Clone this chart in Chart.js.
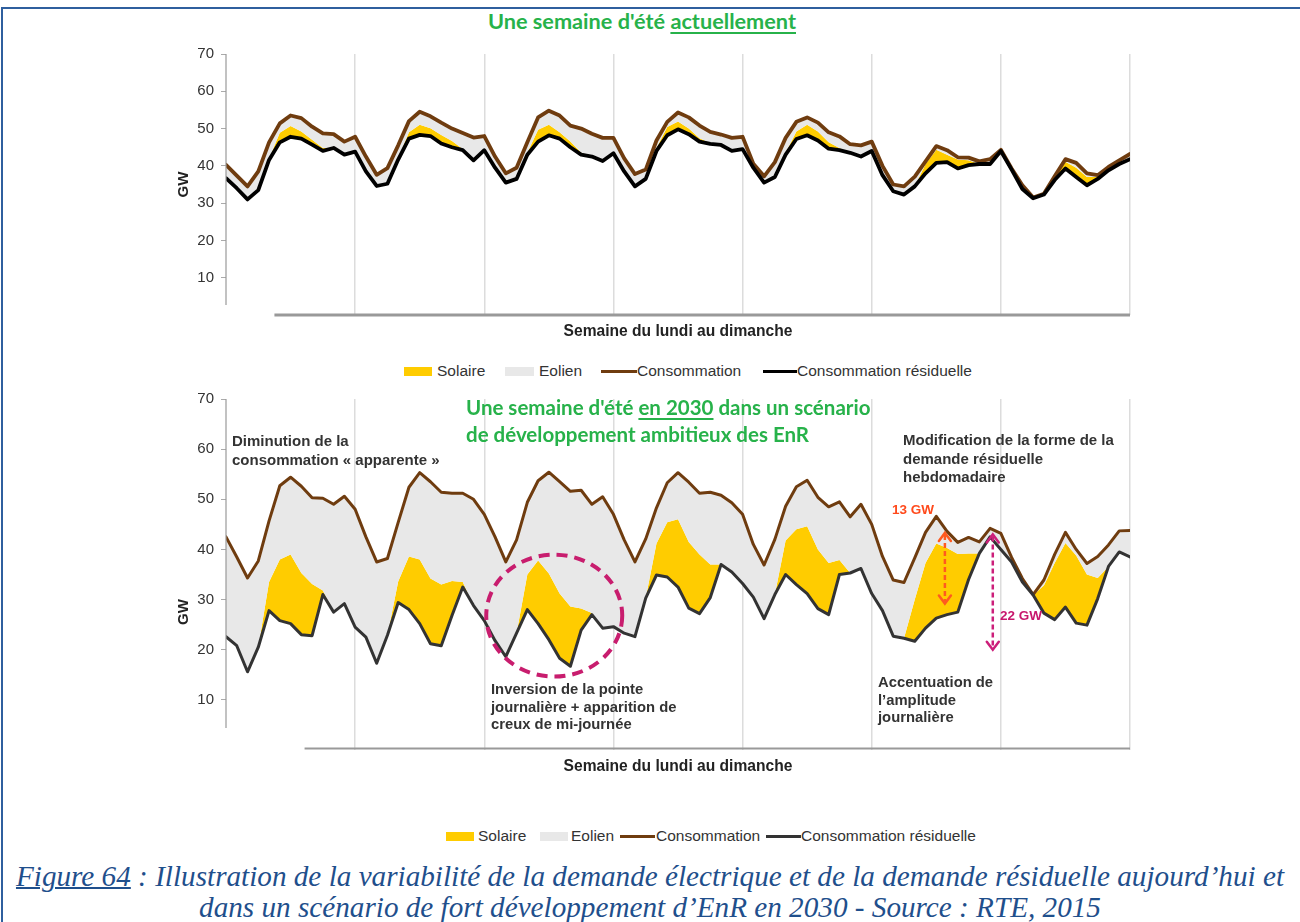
<!DOCTYPE html>
<html lang="fr">
<head>
<meta charset="utf-8">
<title>Figure 64 - demande résiduelle</title>
<script src="https://cdn.jsdelivr.net/npm/chart.js@4.4.1/dist/chart.umd.min.js"></script>
<style>
  body { margin:0; width:1300px; height:922px; overflow:hidden; position:relative; background:#fff;
         font-family:"Liberation Sans", Arial, sans-serif; }
  .cadre { position:absolute; left:1px; top:7px; width:1320px; height:1000px;
           border-left:2px solid #2f5f9e; border-top:2px solid #2f5f9e; }
  canvas { position:absolute; left:0; }
  #grapheActuel { top:0; }
  #graphe2030 { top:380px; }
  .t { position:absolute; white-space:nowrap; }
  .vert { font-family:Lato, "Open Sans", sans-serif; font-weight:700; color:#27b24a; font-size:20.5px; line-height:27px; }
  .vert u { text-decoration-thickness:2px; text-underline-offset:3px; }
  .note { font-weight:700; color:#333; font-size:15px; line-height:19px; }
  .note13 { font-weight:700; color:#333; font-size:14.8px; line-height:17.5px; }
  .gw { font-weight:700; font-size:13.5px; line-height:16px; }
  .leg { font-size:15.5px; color:#333; line-height:16px; }
  .box { position:absolute; }
  .legende { position:absolute; left:0; width:1300px; top:861px; text-align:center;
             font-family:"Liberation Serif", "Times New Roman", serif; font-style:italic;
             color:#1f4f8c; font-size:29.2px; line-height:31px; }
  .legende u { text-decoration-thickness:1.5px; }
  .titreY { position:absolute; font-weight:700; font-size:15px; color:#222; width:30px; text-align:center;
            line-height:16px; transform:rotate(-90deg); }
</style>
</head>
<body>
<div class="cadre"></div>

<div class="t vert" style="left:488px; top:8px; font-size:21.7px;">Une semaine d'été <u>actuellement</u></div>

<canvas id="grapheActuel" width="1300" height="350"></canvas>

<!-- légende du graphe actuel -->
<div class="box" style="left:404px; top:367px; width:28px; height:9px; background:#ffcc00;"></div>
<div class="t leg" style="left:437px; top:363px;">Solaire</div>
<div class="box" style="left:505px; top:367px; width:29px; height:9px; background:#e8e8e8;"></div>
<div class="t leg" style="left:539px; top:363px;">Eolien</div>
<div class="box" style="left:601px; top:370px; width:36px; height:3px; background:#6f3c0f;"></div>
<div class="t leg" style="left:637px; top:363px;">Consommation</div>
<div class="box" style="left:763px; top:370px; width:34px; height:3px; background:#000;"></div>
<div class="t leg" style="left:797px; top:363px;">Consommation résiduelle</div>

<canvas id="graphe2030" width="1300" height="410"></canvas>

<div class="titreY" style="left:168px; top:604px;">GW</div>

<div class="t vert" style="left:466px; top:394px;">Une semaine d'été <u>en 2030</u> dans un scénario<br>de développement ambitieux des EnR</div>
<div class="t note" style="left:232px; top:431px;">Diminution de la<br>consommation « apparente »</div>
<div class="t note" style="left:903px; top:431px; line-height:18.5px;">Modification de la forme de la<br>demande résiduelle<br>hebdomadaire</div>
<div class="t gw" style="left:892px; top:502px; color:#ff4a1c;">13 GW</div>
<div class="t gw" style="left:1000px; top:608px; color:#c8176c;">22 GW</div>
<div class="t note13" style="left:491px; top:681px;">Inversion de la pointe<br>journalière + apparition de<br>creux de mi-journée</div>
<div class="t note13" style="left:878px; top:674px;">Accentuation de<br>l’amplitude<br>journalière</div>

<!-- légende du graphe 2030 -->
<div class="box" style="left:446px; top:832px; width:28px; height:9px; background:#ffcc00;"></div>
<div class="t leg" style="left:478px; top:828px;">Solaire</div>
<div class="box" style="left:540px; top:832px; width:28px; height:9px; background:#e8e8e8;"></div>
<div class="t leg" style="left:571px; top:828px;">Eolien</div>
<div class="box" style="left:620px; top:835px; width:35px; height:3px; background:#6f3c0f;"></div>
<div class="t leg" style="left:656px; top:828px;">Consommation</div>
<div class="box" style="left:766px; top:835px; width:35px; height:3px; background:#333;"></div>
<div class="t leg" style="left:801px; top:828px;">Consommation résiduelle</div>

<div class="legende"><u>Figure 64</u> : Illustration de la variabilité de la demande électrique et de la demande résiduelle aujourd’hui et<br>dans un scénario de fort développement d’EnR en 2030 - Source : RTE, 2015</div>

<script>
// ===== données (GW, pas de 2 h, lundi 0h -> dimanche 24h) =====
const heures = [0,2,4,6,8,10,12,14,16,18,20,22,24,26,28,30,32,34,36,38,40,42,44,46,48,50,52,54,56,58,60,62,64,66,68,70,72,74,76,78,80,82,84,86,88,90,92,94,96,98,100,102,104,106,108,110,112,114,116,118,120,122,124,126,128,130,132,134,136,138,140,142,144,146,148,150,152,154,156,158,160,162,164,166,168];

// semaine d'été actuelle
const consoActuelle = [40.3,37.4,34.5,38.5,46.3,51.4,53.5,52.8,50.5,48.7,48.5,46.5,47.8,
  42.5,37.6,39.4,45.5,52,54.5,53.3,51.6,50,48.8,47.6,48,
  42.5,38,39.5,46.3,53,54.8,53.5,50.8,50,48.6,47.5,47.5,
  42,37.8,39,46.8,51.8,54.3,53,50.8,49.1,48.4,47.5,47.8,
  40.6,37.2,41,47.5,51.8,53,51.6,49,47.9,45.8,45.5,46.5,
  40,35,34.5,37.1,41.2,45.3,44.2,42.3,42.2,41.2,41.8,44.3,
  39.3,34.8,31.5,32.5,37.2,41.8,40.8,38,37.5,39.7,41.5,43.2];
const residuelleActuelle = [36.7,34,31,33.5,41.6,46.3,47.8,47.3,45.7,44,44.8,43,43.8,
  38.5,34.6,35.2,41.7,47.3,48.3,48,46,45,44.2,41.5,44.2,
  39.5,35.5,36.5,43,46.5,48.2,47.3,45,43,42.5,41.3,43.4,
  38.5,34.5,36.5,44,48.2,49.8,48.5,46.5,45.9,45.6,44,44.5,
  39.5,35.5,37,43,47.2,48.2,46.8,44.6,44.2,43.5,42.5,44,
  37.5,33.2,32.3,34.5,38,40.8,41,39.3,40.2,40.5,40.5,44,
  39,33.8,31.3,32.3,36.2,39.3,37,34.8,36.5,38.8,40.5,41.8];
const solaireActuel = [0,0,0,0,0.3,2.6,2.9,1.9,1.3,0.8,0,0,0,
  0,0,0,0.5,1.7,2.7,2.1,2.3,1.7,0.3,0,0,
  0,0,0,0.5,3.2,2.8,1.7,1.5,0.6,0,0,0,
  0,0,0,0.8,2.2,2.1,1.5,0.9,0.2,0,0,0,
  0,0,0,0.5,2,2.8,2.4,1.7,0.6,0,0,0,
  0,0,0,0,2.5,3.5,2,2.4,1.3,0,0,0,
  0,0,0,0,0.8,1.8,2.5,2.2,0.5,0,0,0];

// semaine d'été 2030, scénario EnR ambitieux
const conso2030 = [42.5,38.5,34.3,37.7,45.7,52.7,54.4,52.6,50.3,50.2,49,50.6,48,
  42.5,37.5,38.2,45.4,52.4,55.3,53.5,51.4,51.2,51.2,50,47,
  42.5,37.5,41.9,49.4,53.7,55.4,53.5,51.6,51.8,49,50.5,47,
  41.9,37.5,42.1,48.3,53.3,55.3,53.4,51.2,51.4,50.8,49.3,47,
  41,36.9,42,48.6,52.5,53.8,50.4,48.5,49.5,46.5,49,45,
  38.6,33.9,33.4,38.3,43.4,46.6,43.6,41.4,42.4,41.5,44.2,43.2,
  38.4,34.2,31,33.9,39,43.4,40,37.2,38.6,40.9,43.7,43.8];
const residuelle2030 = [22.6,20.8,15.6,20.5,27.8,25.8,25.2,23,22.8,31,27.5,29.2,24.5,
  22.5,17.3,22.9,29.4,28,25.2,21.2,20.8,26.8,32.5,28.8,25.8,
  21.8,18.6,23.3,28,25.2,22,18.3,16.7,23.9,27,24.3,24.6,
  23.3,22.6,30.3,34.9,34.5,32.5,28.3,27.2,30.4,37,35.5,33.2,
  30.5,26.2,31,35,33,31.2,28.2,27,35,35.3,36.2,31.2,
  27.8,22.7,22.3,21.7,24.3,26.3,27,27.5,34,39.2,42.5,40,
  37.5,33.5,30.9,27.3,26,28.5,25.3,24.9,30.2,36.6,39.5,38.5];
const solaire2030 = [0,0,0,0,5.7,12.2,13.8,12.3,10.3,0.8,0,0,0,
  0,0,0,4.2,10.6,12.8,13,12.2,6.9,1,0,0,
  0,0,0,7,12.6,13.2,12.9,11.9,4.3,0.3,0,0,
  0,0,0,6.3,10.9,13.5,13.2,11.8,6.6,0,0,0,
  0,0,0,6.8,11,13.4,11.8,10.3,2.9,0,0,0,
  0,0,0,8.3,13,14.9,13.3,11.6,5.2,0,0,0,
  0,0,0,5.5,11.3,12.8,13.5,10.1,4.1,0,0,0];

// repères des annotations (heure, GW)
const cercleInversion = { heure: 61, gw: 26.8 };
const fleche13 = { heure: 133.6, haut: 43.3, bas: 29.2 };
const fleche22 = { heure: 142.5, haut: 43, bas: 20 };

// ===== helpers =====
const pts = arr => arr.map((v, i) => ({ x: heures[i], y: v }));

function makeDatasets(conso, residuelle, solaire, couleurResid, largeur) {
  // bord haut de la bande solaire = résiduelle + solaire
  const bordSolaire = residuelle.map((v, i) => Math.round((v + solaire[i]) * 10) / 10);
  return [
    { label: 'Consommation résiduelle', data: pts(residuelle), borderColor: couleurResid,
      borderWidth: largeur, fill: false, order: 0 },
    { label: 'Solaire', data: pts(bordSolaire), borderColor: 'rgba(0,0,0,0)', borderWidth: 0,
      backgroundColor: '#ffcc00', fill: '-1', order: 2 },
    { label: 'Consommation', data: pts(conso), borderColor: '#6f3c0f', borderWidth: largeur,
      backgroundColor: '#e8e8e8', fill: '-1', order: 1 }
  ];
}

// axes partiels (l'axe Y s'arrête avant 0, l'axe X commence après l'origine)
const axesPartiels = {
  id: 'axesPartiels',
  afterDatasetsDraw(chart, args, opts) {
    const { ctx, scales: { x, y } } = chart;
    ctx.save();
    ctx.strokeStyle = opts.couleur;
    ctx.lineWidth = 1.2;
    ctx.beginPath();
    ctx.moveTo(x.left, y.top);
    ctx.lineTo(x.left, y.getPixelForValue(opts.finAxeY));
    ctx.stroke();
    ctx.lineWidth = opts.epaisseurX;
    const yb = y.getPixelForValue(opts.niveauX);
    ctx.beginPath();
    ctx.moveTo(x.getPixelForValue(opts.debutAxeX), yb);
    ctx.lineTo(x.right, yb);
    ctx.stroke();
    ctx.restore();
  }
};

function fleche(ctx, x, yHaut, yBas, couleur) {
  ctx.save();
  ctx.strokeStyle = couleur;
  ctx.lineWidth = 2.5;
  ctx.setLineDash([5, 3]);
  ctx.beginPath();
  ctx.moveTo(x, yHaut + 2);
  ctx.lineTo(x, yBas - 2);
  ctx.stroke();
  ctx.setLineDash([]);
  ctx.lineCap = 'round';
  ctx.beginPath();
  ctx.moveTo(x - 6, yHaut + 8); ctx.lineTo(x, yHaut); ctx.lineTo(x + 6, yHaut + 8);
  ctx.moveTo(x - 6, yBas - 8); ctx.lineTo(x, yBas); ctx.lineTo(x + 6, yBas - 8);
  ctx.stroke();
  ctx.restore();
}

const annotations2030 = {
  id: 'annotations2030',
  afterDatasetsDraw(chart) {
    const { ctx, scales: { x, y } } = chart;
    ctx.save();
    ctx.strokeStyle = '#c81d6e';
    ctx.lineWidth = 4;
    ctx.setLineDash([11, 7]);
    ctx.beginPath();
    ctx.ellipse(x.getPixelForValue(cercleInversion.heure), y.getPixelForValue(cercleInversion.gw),
      68, 61, 0, 0, Math.PI * 2);
    ctx.stroke();
    ctx.restore();
    fleche(ctx, x.getPixelForValue(fleche13.heure), y.getPixelForValue(fleche13.haut),
      y.getPixelForValue(fleche13.bas), '#ff5a1f');
    fleche(ctx, x.getPixelForValue(fleche22.heure), y.getPixelForValue(fleche22.haut),
      y.getPixelForValue(fleche22.bas), '#cc1f7a');
  }
};

function makeOptions(cfg) {
  return {
    responsive: false,
    animation: false,
    events: [],
    layout: { padding: cfg.padding },
    elements: {
      point: { radius: 0 },
      line: { tension: 0, borderJoinStyle: 'round', borderCapStyle: 'round' }
    },
    plugins: {
      legend: { display: false },
      tooltip: { enabled: false },
      filler: { drawTime: 'beforeDatasetsDraw' },
      axesPartiels: cfg.axes
    },
    scales: {
      x: {
        type: 'linear', min: 0, max: 168,
        afterFit: s => { s.height = cfg.hauteurX; },
        ticks: { stepSize: 24, display: false },
        border: { display: false },
        grid: {
          drawTicks: false, lineWidth: 1.5,
          color: c => (c.tick && c.tick.value > 0 ? '#dcdcdc' : 'rgba(0,0,0,0)')
        },
        title: {
          display: true, text: 'Semaine du lundi au dimanche', color: '#222',
          font: { family: 'Liberation Sans', size: 15.6, weight: 'bold' },
          padding: { top: 0, bottom: 4 }
        }
      },
      y: {
        min: 0, max: 70,
        afterFit: s => { s.width = 55; },
        border: { display: false },
        grid: {
          drawOnChartArea: false, drawTicks: true, tickLength: 5,
          color: c => (c.tick && c.tick.value > 0 ? '#aaa' : 'rgba(0,0,0,0)')
        },
        ticks: {
          stepSize: 10, padding: 7, color: '#333',
          font: { family: 'Liberation Sans', size: 15 },
          callback: v => (v === 0 ? '' : v)
        },
        title: {
          display: cfg.titreY, text: 'GW', color: '#222',
          font: { family: 'Liberation Sans', size: 15, weight: 'bold' },
          padding: { top: 4, bottom: 0 }
        }
      }
    }
  };
}

// ===== graphes =====
new Chart(document.getElementById('grapheActuel'), {
  type: 'line',
  data: { datasets: makeDatasets(consoActuelle, residuelleActuelle, solaireActuel, '#000', 3.8) },
  options: makeOptions({
    padding: { left: 171, right: 170, top: 54, bottom: 5 },
    hauteurX: 30,
    titreY: true,
    axes: { couleur: '#999', finAxeY: 2.7, debutAxeX: 9, niveauX: 0, epaisseurX: 3 }
  }),
  plugins: [axesPartiels]
});

new Chart(document.getElementById('graphe2030'), {
  type: 'line',
  data: { datasets: makeDatasets(conso2030, residuelle2030, solaire2030, '#333', 3) },
  options: makeOptions({
    padding: { left: 171, right: 170, top: 19, bottom: 10 },
    hauteurX: 30,
    titreY: false,
    axes: { couleur: '#999', finAxeY: 4.4, debutAxeX: 14.6, niveauX: 0.3, epaisseurX: 2 }
  }),
  plugins: [axesPartiels, annotations2030]
});
</script>
</body>
</html>
